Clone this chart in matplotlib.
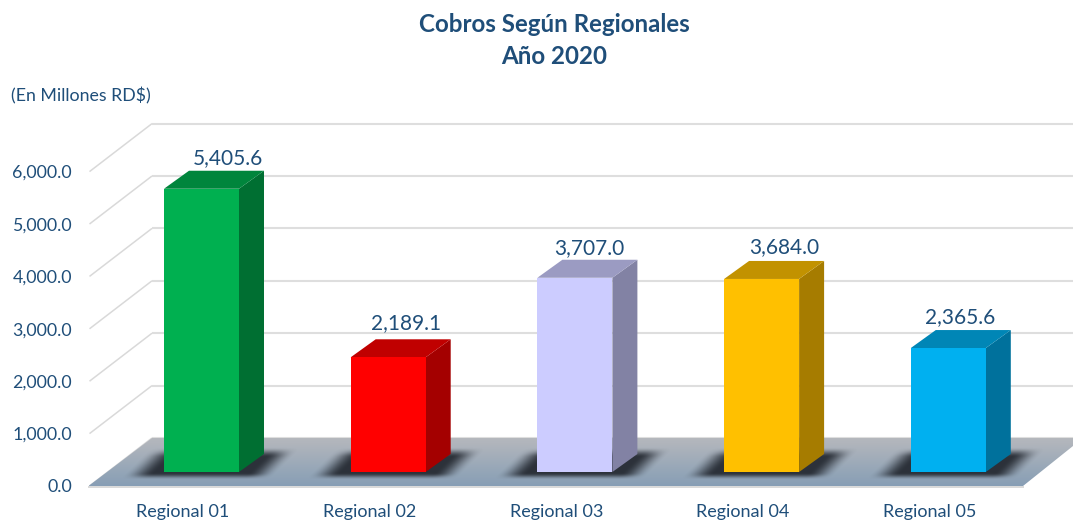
import matplotlib
matplotlib.use("Agg")
import matplotlib.pyplot as plt
from matplotlib.patches import Polygon
import numpy as np

plt.rcParams['font.family'] = ['Lato', 'DejaVu Sans']

# data
regions = ["Regional 01", "Regional 02", "Regional 03", "Regional 04", "Regional 05"]
values = [5405.6, 2189.1, 3707.0, 3684.0, 2365.6]
ticks = [0, 1000, 2000, 3000, 4000, 5000, 6000]
front_colors = ["#00b050", "#ff0000", "#ccccff", "#ffc000", "#00b0f0"]
top_colors = ["#00853c", "#c00000", "#9b9bc2", "#c29200", "#0086b6"]
side_colors = ["#006f32", "#a40000", "#8282a4", "#a67c00", "#00719c"]
# hand placed value labels, px from the bar top centre
label_dx = [26, 18, 14.5, 23, 12]
label_dy = [25, 28, 24, 26, 25]

TEXT = "#1f4e79"
W, H = 1073, 520
PX_X = 186.7      # px per category
PX_Y = 0.0524     # px per value unit
X0 = 201.5        # px of first bar centre
Y0 = 472          # px of value 0 in the bar plane

fig = plt.figure(figsize=(W / 100, H / 100), dpi=100)
ax = fig.add_axes([0, 0, 1, 1])
ax.axis("off")


def dx(px):
    return px / PX_X


def dy(px):
    return px / PX_Y


def smooth(a):
    a = np.clip(a, 0, 1)
    return a * a * (3 - 2 * a)


bar_w = dx(75)
depth_x, depth_y = dx(25), dy(18)

# wall/floor offsets relative to the bar plane
left_front = -dx(113)
left_back = -dx(49.5)
right_back = dx(871.5)
right_edge = 4 + dx(74.7)
front_y = -dy(14)
back_y = dy(34)

# gridlines and side wall
for t in ticks:
    ax.plot([left_front + dx(1), left_back], [t + front_y, t + back_y],
            color="#d9d9d9", lw=1.1, zorder=1, solid_capstyle="butt")
    ax.plot([left_back, (W - X0) / PX_X], [t + back_y, t + back_y],
            color="#dedede", lw=1.5, zorder=1, solid_capstyle="butt")
    ax.text(dx(-129.5), t + front_y - dy(1.5), f"{t:,.1f}", color=TEXT, fontsize=12.8,
            ha="right", va="center", zorder=6)

# floor with vertical gradient
floor = Polygon([(left_front, front_y), (right_edge, front_y),
                 (right_back, front_y + dy(40)), (right_back, back_y), (left_back, back_y)],
                closed=True, transform=ax.transData, fc="none", ec="none")
ax.add_patch(floor)
c_top = np.array([0.71, 0.72, 0.74])
c_bot = np.array([0.53, 0.62, 0.71])
t = np.linspace(0, 1, 64)[:, None, None]
grad = c_top * (1 - t) + c_bot * t
im = ax.imshow(grad, extent=(left_front, right_back, front_y, back_y), aspect="auto",
               zorder=2, interpolation="bilinear")
im.set_clip_path(floor)
ax.plot([left_front, right_edge], [front_y - dy(1), front_y - dy(1)], color="#d9d9d9", lw=1.4, zorder=2)

# soft skewed shadows on the floor, px around the bar base
sx = np.linspace(-90, 110, 300)
sy = np.linspace(28, -10, 76)
xx, yy = np.meshgrid(sx, sy)
skew = xx - yy * 1.0
fade = smooth((skew + 76) / 30) * smooth((76 - skew) / 28) * smooth((yy + 8) / 7) * smooth((25 - yy) / 10)
shadow = np.zeros(xx.shape + (4,))
shadow[..., :3] = [0.15, 0.17, 0.2]
shadow[..., 3] = fade * 0.95
for i in range(len(values)):
    ax.imshow(shadow, extent=(i + dx(sx[0]), i + dx(sx[-1]), dy(sy[-1]), dy(sy[0])), aspect="auto",
              zorder=3, interpolation="bilinear")

# 3d bars
for i, val in enumerate(values):
    l, r = i - bar_w / 2, i + bar_w / 2
    ax.bar(i, val, width=bar_w, color=front_colors[i], zorder=5)
    ax.add_patch(Polygon([(r, 0), (r + depth_x, depth_y), (r + depth_x, val + depth_y), (r, val)],
                         closed=True, fc=side_colors[i], ec="none", zorder=4))
    ax.add_patch(Polygon([(l, val), (l + depth_x, val + depth_y), (r + depth_x, val + depth_y), (r, val)],
                         closed=True, fc=top_colors[i], ec="none", zorder=4))
    ax.text(i + dx(label_dx[i]), val + dy(label_dy[i]), f"{val:,.1f}", color=TEXT, fontsize=15,
            ha="center", va="baseline", zorder=6)
    ax.text(i - dx(18.5), -dy(39.5), regions[i], color=TEXT, fontsize=13,
            ha="center", va="center", zorder=6)

ax.set_xlim((0 - X0) / PX_X, (W - X0) / PX_X)
ax.set_ylim((Y0 - H) / PX_Y, Y0 / PX_Y)

fig.text(554 / W, 1 - 24 / H, "Cobros Según Regionales", color=TEXT, fontsize=17.4,
         fontweight="bold", ha="center", va="center")
fig.text(554 / W, 1 - 56 / H, "Año 2020", color=TEXT, fontsize=17.4,
         fontweight="bold", ha="center", va="center")
fig.text(11 / W, 1 - 95.5 / H, "(En Millones RD$)", color=TEXT, fontsize=12.8,
         ha="left", va="center")

fig.savefig("out.png", dpi=100)
